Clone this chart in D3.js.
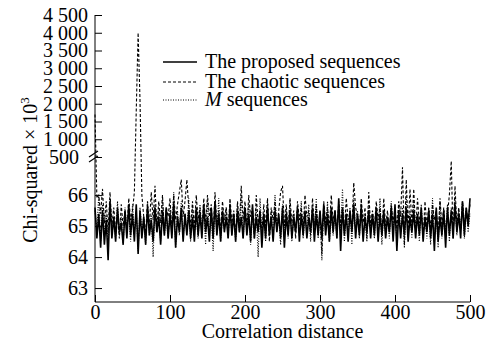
<!DOCTYPE html>
<html>
<head>
<meta charset="utf-8">
<script src="https://cdn.jsdelivr.net/npm/d3@7"></script>
<style>
  body { margin: 0; background: #fff; }
  svg, svg text { font-family: "Liberation Serif", "DejaVu Serif", serif; }
</style>
</head>
<body>
<svg id="chart" width="493" height="349"></svg>
<script>
// correlation distance runs 0..500, one sample every 2.5
const step = 2.5;
const xTicks = [0, 100, 200, 300, 400, 500];
const yTicksLow = [63, 64, 65, 66];
const yTicksHigh = [500, 1000, 1500, 2000, 2500, 3000, 3500, 4000, 4500];

const seriesNames = ['The proposed sequences', 'The chaotic sequences', 'M sequences'];

const proposed = [
  65.6, 64.6, 65.4, 64.3, 65.5, 64.4, 65.2, 63.9, 65.8, 64.6,
  65.3, 64.5, 65.6, 64.8, 65.1, 64.4, 65.5, 64.6, 65.7, 64.7,
  65.4, 64.5, 65.7, 64.1, 65.5, 64.6, 65.3, 64.4, 65.6, 64.7,
  65.2, 64.5, 65.6, 64.8, 65.3, 64.4, 65.5, 64.7, 65.6, 64.6,
  65.4, 64.6, 65.7, 64.3, 65.3, 64.8, 65.6, 64.5, 65.4, 64.7,
  65.5, 64.6, 65.3, 64.5, 65.6, 64.7, 65.4, 64.6, 65.7, 64.8,
  65.3, 64.5, 65.6, 64.6, 65.8, 64.7, 65.4, 64.5, 65.5, 64.8,
  65.3, 64.6, 65.6, 64.7, 65.4, 64.5, 65.5, 64.8, 65.3, 64.6,
  65.6, 64.7, 65.4, 64.5, 65.7, 64.6, 65.3, 64.8, 65.5, 64.3,
  65.4, 64.6, 65.6, 64.7, 65.3, 64.5, 65.5, 64.8, 65.4, 64.6,
  65.6, 64.3, 65.4, 64.7, 65.5, 64.6, 65.3, 64.8, 65.6, 64.5,
  65.4, 64.7, 65.5, 64.6, 65.3, 64.8, 65.6, 64.5, 65.4, 64.7,
  65.5, 64.6, 65.7, 64.7, 65.4, 64.5, 65.6, 64.8, 65.5, 64.6,
  65.9, 64.2, 65.6, 64.7, 65.4, 64.5, 65.5, 64.8, 65.7, 64.6,
  65.4, 64.7, 65.6, 64.5, 65.3, 64.8, 65.5, 64.6, 65.4, 64.7,
  65.6, 64.5, 65.4, 64.7, 65.5, 64.6, 65.3, 64.8, 65.6, 64.5,
  65.7, 64.2, 65.5, 64.6, 65.4, 64.7, 65.6, 64.5, 65.3, 64.8,
  65.5, 64.6, 65.4, 64.7, 65.6, 64.5, 65.3, 64.8, 65.5, 64.6,
  65.4, 64.2, 65.6, 64.5, 65.3, 64.7, 65.5, 64.3, 65.6, 64.7,
  65.5, 64.6, 65.7, 64.8, 65.4, 64.6, 65.8, 64.7, 65.6, 65.0, 65.9
];

const chaotic = [
  1700, 65.9, 66.0, 65.4, 66.2, 65.1, 65.8, 64.8, 66.1, 65.0,
  65.6, 64.9, 65.3, 64.6, 65.7, 65.0, 65.5, 64.8, 65.9, 65.2,
  65.5, 66.1, 1800, 4000, 2100, 66.0, 65.3, 64.7, 65.8, 65.0,
  66.1, 65.2, 66.3, 64.9, 65.8, 65.1, 66.0, 64.8, 65.6, 65.3,
  65.9, 64.8, 66.0, 65.2, 65.7, 66.1, 66.5, 65.3, 65.8, 66.5,
  65.6, 65.0, 65.8, 64.9, 66.0, 65.2, 65.6, 64.8, 65.9, 65.1,
  66.0, 65.3, 65.7, 64.6, 66.1, 65.0, 65.5, 64.9, 65.8, 65.2,
  65.6, 64.8, 65.9, 65.1, 65.5, 64.7, 65.8, 65.0, 66.3, 65.2,
  65.8, 64.9, 66.0, 65.3, 65.6, 64.6, 66.0, 65.1, 65.4, 64.8,
  65.7, 65.0, 65.9, 64.5, 65.6, 65.2, 65.8, 64.9, 65.5, 66.1,
  66.3, 65.0, 65.7, 64.8, 65.9, 65.1, 65.5, 64.6, 65.8, 65.2,
  65.6, 64.9, 66.0, 65.3, 65.5, 64.7, 65.9, 65.0, 65.7, 64.8,
  65.5, 64.1, 65.8, 65.1, 65.6, 64.9, 66.0, 65.2, 65.5, 64.7,
  65.8, 65.0, 65.6, 64.8, 65.9, 65.2, 65.4, 64.9, 66.4, 65.6,
  65.3, 64.8, 65.9, 65.1, 65.6, 64.6, 66.1, 65.0, 65.5, 64.9,
  65.8, 65.2, 65.6, 64.7, 65.9, 65.0, 65.5, 64.8, 65.7, 65.1,
  65.6, 64.9, 65.8, 65.3, 66.9, 64.4, 66.5, 64.9, 66.2, 65.0,
  66.2, 64.8, 65.9, 65.1, 65.5, 64.6, 65.8, 65.0, 65.6, 64.9,
  65.7, 65.2, 65.5, 64.7, 65.9, 65.0, 65.6, 64.8, 65.4, 66.0,
  67.1, 64.6, 66.3, 65.0, 65.6, 64.9, 65.8, 65.1, 65.5, 65.2, 65.7
];

const mSeq = [
  65.5, 64.9, 66.0, 64.5, 65.7, 64.8, 65.4, 64.3, 65.9, 65.0,
  65.2, 64.6, 65.8, 64.7, 65.3, 64.4, 65.6, 64.9, 65.4, 64.5,
  65.7, 64.8, 65.5, 64.2, 65.6, 64.9, 65.3, 64.4, 65.8, 64.7,
  65.4, 64.0, 65.7, 64.8, 65.5, 64.5, 65.9, 64.7, 65.3, 64.6,
  65.6, 64.9, 66.1, 64.3, 65.5, 64.7, 65.8, 64.6, 65.4, 64.8,
  65.9, 64.5, 65.6, 64.8, 65.3, 64.6, 65.7, 64.9, 65.5, 64.4,
  65.8, 64.7, 65.4, 64.2, 65.6, 64.8, 65.9, 64.5, 65.3, 64.9,
  65.6, 64.6, 65.8, 64.7, 65.4, 64.5, 65.7, 64.8, 66.0, 64.6,
  65.5, 64.9, 65.7, 64.4, 65.3, 64.7, 65.6, 64.0, 65.9, 64.8,
  65.4, 64.5, 65.8, 64.7, 65.5, 64.6, 66.0, 64.9, 65.3, 64.4,
  65.7, 64.8, 65.5, 64.6, 65.9, 64.5, 65.4, 64.8, 65.6, 64.7,
  65.8, 64.6, 65.3, 64.9, 65.7, 64.5, 65.5, 64.7, 65.9, 64.6,
  65.4, 63.9, 65.6, 64.8, 65.8, 64.5, 65.3, 64.7, 65.5, 64.6,
  65.7, 64.8, 66.2, 64.5, 65.4, 64.7, 65.6, 64.4, 65.9, 64.8,
  65.5, 64.6, 65.8, 64.7, 65.3, 64.5, 65.7, 64.9, 65.4, 64.6,
  65.6, 64.8, 65.9, 64.4, 65.5, 64.7, 65.3, 64.6, 65.8, 64.9,
  65.4, 64.5, 65.7, 64.8, 65.6, 64.3, 65.9, 64.7, 65.5, 64.6,
  65.8, 64.8, 65.4, 64.5, 65.7, 64.7, 65.3, 64.6, 65.6, 64.4,
  65.9, 64.7, 65.5, 64.3, 65.8, 64.6, 65.4, 64.8, 65.7, 64.5,
  65.6, 64.8, 65.9, 64.7, 65.5, 64.9, 65.8, 64.6, 65.6, 64.8, 65.4
];

const svg = d3.select('#chart');
const x0 = 95, x1 = 470, yBottom = 302, yBreak = 157, yTop = 15;
const serif = '"Liberation Serif", "DejaVu Serif", serif';

const x = d3.scaleLinear().domain([0, 500]).range([x0, x1]);
// broken y axis: a low band (63..67) and a high band (500..4500)
const yLow = d3.scaleLinear().domain([62.55, 67.23]).range([yBottom, yBreak]);
const yHigh = d3.scaleLinear().domain([500, 4500]).range([yBreak, yTop]);
const y = v => v <= 67.23 ? yLow(v) : yHigh(v);

const fmt = d3.formatLocale({ decimal: '.', thousands: ' ', grouping: [3], currency: ['', ''] }).format(',');

const fontSize = 20;

// axes
const axLeftLow = d3.axisLeft(yLow).tickValues(yTicksLow).tickSize(-7).tickPadding(7).tickFormat(d3.format('d'));
const axLeftHigh = d3.axisLeft(yHigh).tickValues(yTicksHigh).tickSize(-7).tickPadding(7).tickFormat(fmt);
const axBottom = d3.axisBottom(x).tickValues(xTicks).tickSize(-7).tickPadding(3);

function styleAxis(g) {
  g.attr('font-family', serif).attr('font-size', fontSize);
  g.select('.domain').remove();
  g.selectAll('line').attr('stroke', '#000').attr('stroke-width', 1);
  g.selectAll('text').attr('fill', '#000');
}

svg.append('g').attr('transform', `translate(${x0},0)`).call(axLeftLow).call(styleAxis);
const gHigh = svg.append('g').attr('transform', `translate(${x0},0)`).call(axLeftHigh).call(styleAxis);
gHigh.selectAll('.tick').filter(d => d === 500).select('text').attr('x', -16);
svg.append('g').attr('transform', `translate(0,${yBottom})`).call(axBottom).call(styleAxis);

// axis lines
svg.append('line').attr('x1', x0).attr('x2', x0).attr('y1', yTop).attr('y2', yBottom).attr('stroke', '#000');
svg.append('line').attr('x1', x0).attr('x2', x1).attr('y1', yBottom).attr('y2', yBottom).attr('stroke', '#000');

// series
const line = d3.line().x((d, i) => x(i * step)).y(d => y(d));
const styles = [
  { data: mSeq, dash: '1,1.5', width: 1.1 },
  { data: chaotic, dash: '3,2', width: 1.1 },
  { data: proposed, dash: null, width: 1.6 }
];
svg.append('g').selectAll('path')
  .data(styles)
  .join('path')
  .attr('d', d => line(d.data))
  .attr('fill', 'none')
  .attr('stroke', '#000')
  .attr('stroke-width', d => d.width)
  .attr('stroke-dasharray', d => d.dash);

// break marks on the y axis
const brk = svg.append('g').attr('stroke', '#000').attr('stroke-width', 1.2);
[154, 159].forEach(yy => {
  brk.append('line').attr('x1', x0 - 6).attr('y1', yy + 3).attr('x2', x0 + 3).attr('y2', yy - 3);
});

// legend
const legendRows = [
  { name: seriesNames[0], dash: null, y: 62 },
  { name: seriesNames[1], dash: '3,2', y: 82 },
  { name: seriesNames[2], dash: '1,1.5', y: 100 }
];
const lg = svg.append('g').attr('font-family', serif).attr('font-size', fontSize);
legendRows.forEach(r => {
  lg.append('line').attr('x1', 163).attr('x2', 197).attr('y1', r.y).attr('y2', r.y)
    .attr('stroke', '#000').attr('stroke-width', r.dash ? 1 : 1.5).attr('stroke-dasharray', r.dash);
  const t = lg.append('text').attr('x', 205).attr('y', r.y + 6);
  if (r.name.startsWith('M ')) {
    t.append('tspan').attr('font-style', 'italic').text('M');
    t.append('tspan').text(' sequences');
  } else {
    t.text(r.name);
  }
});

// axis titles
svg.append('text').attr('x', (x0 + x1) / 2).attr('y', 338).attr('text-anchor', 'middle')
  .attr('font-family', serif).attr('font-size', fontSize).text('Correlation distance');
const yt = svg.append('text').attr('transform', 'translate(37,170) rotate(-90)')
  .attr('text-anchor', 'middle').attr('font-family', serif).attr('font-size', fontSize);
yt.append('tspan').text('Chi-squared \u00d7 10');
yt.append('tspan').attr('font-size', 13).attr('dy', -8).text('3');
</script>
</body>
</html>
